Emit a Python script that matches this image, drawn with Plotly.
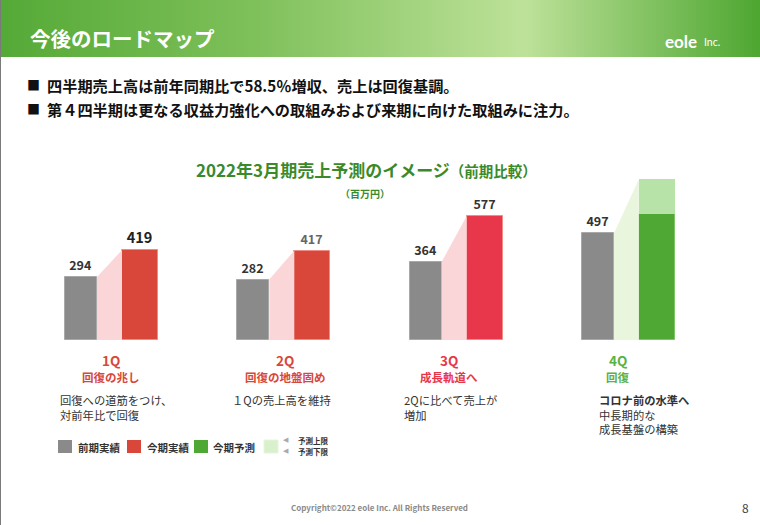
import plotly.graph_objects as go

# ---------------- data ----------------
quarters = ["1Q", "2Q", "3Q", "4Q"]
prev_year = [294, 282, 364, 497]          # 前期実績
this_year = [419, 417, 577, None]         # 今期実績
forecast_low = [None, None, None, 587]    # 今期予測（下限）
forecast_high = [None, None, None, 750]   # 予測上限
prev_labels = ["294", "282", "364", "497"]
this_labels = ["419", "417", "577", ""]
subtitles = ["回復の兆し", "回復の地盤固め", "成長軌道へ", "回復"]
descriptions = [
    ["回復への道筋をつけ、", "対前年比で回復"],
    ["１Qの売上高を維持"],
    ["2Qに比べて売上が", "増加"],
    ["<b>コロナ前の水準へ</b>", "中長期的な", "成長基盤の構築"],
]
bullets = [
    "四半期売上高は前年同期比で58.5％増収、売上は回復基調。",
    "第４四半期は更なる収益力強化への取組みおよび来期に向けた取組みに注力。",
]
legend_items = ["前期実績", "今期実績", "今期予測"]

# ---------------- layout constants ----------------
W, H = 760, 525
FONT = "Noto Sans CJK JP"
G0, STEP = 65, 172.3
GRAY_W, GAP, BAR_W = 32, 25, 36
BASE_PX = 340
PX_PER_UNIT = 0.2145
GRAY = "#8a8a8a"
RED = "#d9473a"
CRIMSON = "#e8374b"
GREEN = "#4fa833"
LIGHT_GREEN = "#b8e3a8"
PINK = "#fbd6d9"
PALE_GREEN = "#eaf5de"
q_colors = [RED, RED, CRIMSON, "#5cb23f"]
cur_colors = [RED, RED, CRIMSON]


def px(x):
    return x / W


def py(y):
    return 1 - y / H


starts = [G0 + i * STEP for i in range(len(quarters))]
gray_x = [s + GRAY_W / 2 for s in starts]
cur_x = [s + GRAY_W + GAP + BAR_W / 2 for s in starts]

fig = go.Figure()

# connectors (behind bars)
for i, s in enumerate(starts):
    target = this_year[i] if this_year[i] is not None else forecast_high[i]
    col = PINK if this_year[i] is not None else PALE_GREEN
    x1, x2 = s + GRAY_W, s + GRAY_W + GAP
    fig.add_trace(go.Scatter(
        x=[x1, x1, x2, x2, x1], y=[0, prev_year[i], target, 0, 0],
        fill="toself", fillcolor=col, mode="lines", line=dict(width=0, color=col),
        hoverinfo="skip", showlegend=False))

# previous year bars
fig.add_trace(go.Bar(
    x=gray_x, y=prev_year, width=GRAY_W, marker=dict(color=GRAY, line=dict(color="#a8a8a8", width=1)),
    text=prev_labels, texttemplate="<b>%{text}</b>", textposition="outside",
    textfont=dict(family=FONT, size=12.5, color="#333"), constraintext="none",
    cliponaxis=False, showlegend=False, name="前期実績"))

# this year bars
idx = [i for i, v in enumerate(this_year) if v is not None]
fig.add_trace(go.Bar(
    x=[cur_x[i] for i in idx], y=[this_year[i] for i in idx], width=BAR_W,
    marker=dict(color=cur_colors, line=dict(color="#f08c84", width=1)),
    text=[this_labels[i] for i in idx], texttemplate="<b>%{text}</b>", textposition="outside",
    textfont=dict(family=FONT, size=[14.5, 12.5, 12.5], color=["#222", "#666", "#333"]),
    constraintext="none", cliponaxis=False, showlegend=False, name="今期実績"))

# forecast bars
fidx = [i for i, v in enumerate(forecast_low) if v is not None]
fig.add_trace(go.Bar(
    x=[cur_x[i] for i in fidx], y=[forecast_low[i] for i in fidx], width=BAR_W,
    marker=dict(color=GREEN, line=dict(color="#7cc466", width=1)), showlegend=False, name="今期予測"))
fig.add_trace(go.Bar(
    x=[cur_x[i] for i in fidx], y=[forecast_high[i] - forecast_low[i] for i in fidx],
    base=[forecast_low[i] for i in fidx], width=BAR_W,
    marker=dict(color=LIGHT_GREEN, line=dict(width=0)), showlegend=False, name="予測上限"))

shapes = []
ann = []

# header gradient
stops = [(0, (0x55, 0xaa, 0x37)), (250, (0x7e, 0xc0, 0x5a)), (525, (0xbe, 0xe2, 0x9a)), (760, (0x4e, 0xa7, 0x31))]


def grad(x):
    for (a, ca), (b, cb) in zip(stops[:-1], stops[1:]):
        if a <= x <= b:
            t = (x - a) / (b - a)
            return "rgb(%d,%d,%d)" % tuple(int(ca[k] + (cb[k] - ca[k]) * t) for k in range(3))
    return "rgb(%d,%d,%d)" % stops[-1][1]


step = 4
for x in range(0, W, step):
    shapes.append(dict(type="rect", xref="paper", yref="paper", x0=px(x), x1=px(x + step + 0.5),
                       y0=py(57), y1=py(0), fillcolor=grad(x + step / 2), line=dict(width=0), layer="below"))
shapes.append(dict(type="line", xref="paper", yref="paper", x0=px(0.5), x1=px(0.5), y0=py(0), y1=py(H),
                   line=dict(color="#7a7a7a", width=1)))

ann.append(dict(x=px(28), y=py(38), text="<b>今後のロードマップ</b>", xanchor="left", yanchor="middle",
                font=dict(family=FONT, size=20.5, color="white")))
ann.append(dict(x=px(699), y=py(41), text="<b>eole</b>", xanchor="right", yanchor="middle",
                font=dict(family="Lato", size=17, color="white")))
ann.append(dict(x=px(702), y=py(42), text="Inc.", xanchor="left", yanchor="middle",
                font=dict(family="Lato", size=10.5, color="white")))

# bullets
for k, b in enumerate(bullets):
    yy = 85 + k * 23.5
    ann.append(dict(x=px(25), y=py(yy), text="■", xanchor="left", yanchor="middle",
                    font=dict(family=FONT, size=13, color="#111")))
    ann.append(dict(x=px(45), y=py(yy), text="<b>%s</b>" % b, xanchor="left", yanchor="middle",
                    font=dict(family=FONT, size=15.2, color="#111")))

# chart title
ann.append(dict(x=px(366), y=py(169), text="<b>2022年3月期売上予測のイメージ<span style='font-size:14.5px'>（前期比較）</span></b>",
                xanchor="center", yanchor="middle", font=dict(family=FONT, size=17, color="#3a8a2a")))
ann.append(dict(x=px(365), y=py(193), text="<b>（百万円）</b>", xanchor="center", yanchor="middle",
                font=dict(family=FONT, size=10, color="#3a8a2a")))

# quarter labels
label_cx = [111, 285, 449, 618]
desc_x = [58, 230, 402, 597]
for i, q in enumerate(quarters):
    ann.append(dict(x=px(label_cx[i]), y=py(360), text="<b>%s</b>" % q, xanchor="center", yanchor="middle",
                    font=dict(family=FONT, size=13.5, color=q_colors[i])))
    ann.append(dict(x=px(label_cx[i]), y=py(377), text="<b>%s</b>" % subtitles[i], xanchor="center",
                    yanchor="middle", font=dict(family=FONT, size=11.5, color=q_colors[i])))
    ann.append(dict(x=px(desc_x[i]), y=py(390), text="<br>".join(descriptions[i]), xanchor="left",
                    yanchor="top", align="left", font=dict(family=FONT, size=11.3, color="#333")))

# legend
leg_sq = [(58, GRAY), (127, RED), (194, GREEN)]
leg_tx = [76, 145, 211]
for (sx, col), tx, name in zip(leg_sq, leg_tx, legend_items):
    shapes.append(dict(type="rect", xref="paper", yref="paper", x0=px(sx), x1=px(sx + 14), y0=py(453),
                       y1=py(440), fillcolor=col, line=dict(width=0)))
    ann.append(dict(x=px(tx), y=py(447), text="<b>%s</b>" % name, xanchor="left", yanchor="middle",
                    font=dict(family=FONT, size=10.5, color="#333")))
shapes.append(dict(type="rect", xref="paper", yref="paper", x0=px(264), x1=px(278), y0=py(453), y1=py(440),
                   fillcolor="#d8f0cc", line=dict(color="#e6f5dc", width=1)))
for yy, t in [(440, "予測上限"), (451, "予測下限")]:
    ann.append(dict(x=px(281), y=py(yy), text="◀", xanchor="left", yanchor="middle",
                    font=dict(family="DejaVu Sans", size=7, color="#aaaaaa")))
    ann.append(dict(x=px(296), y=py(yy), text="<b>%s</b>" % t, xanchor="left", yanchor="middle",
                    font=dict(family=FONT, size=7.5, color="#333")))

# footer
ann.append(dict(x=px(379), y=py(507), text="<b>Copyright©2022 eole Inc. All Rights Reserved</b>",
                xanchor="center", yanchor="middle", font=dict(family=FONT, size=8, color="#8a8a8a")))
ann.append(dict(x=px(745), y=py(507), text="8", xanchor="center", yanchor="middle",
                font=dict(family=FONT, size=12, color="#444")))

for a in ann:
    a.update(xref="paper", yref="paper", showarrow=False)

fig.update_layout(
    width=W, height=H, margin=dict(l=0, r=0, t=0, b=0),
    paper_bgcolor="white", plot_bgcolor="rgba(0,0,0,0)",
    barmode="overlay", bargap=0,
    xaxis=dict(range=[0, W], domain=[0, 1], visible=False, fixedrange=True),
    yaxis=dict(range=[0, BASE_PX / PX_PER_UNIT], domain=[1 - BASE_PX / H, 1], visible=False, fixedrange=True),
    shapes=shapes, annotations=ann, showlegend=False,
    font=dict(family=FONT),
)

fig.write_html("out.html", config={"displayModeBar": False},
               post_script="document.body.style.margin='0';document.body.style.overflow='hidden';")
